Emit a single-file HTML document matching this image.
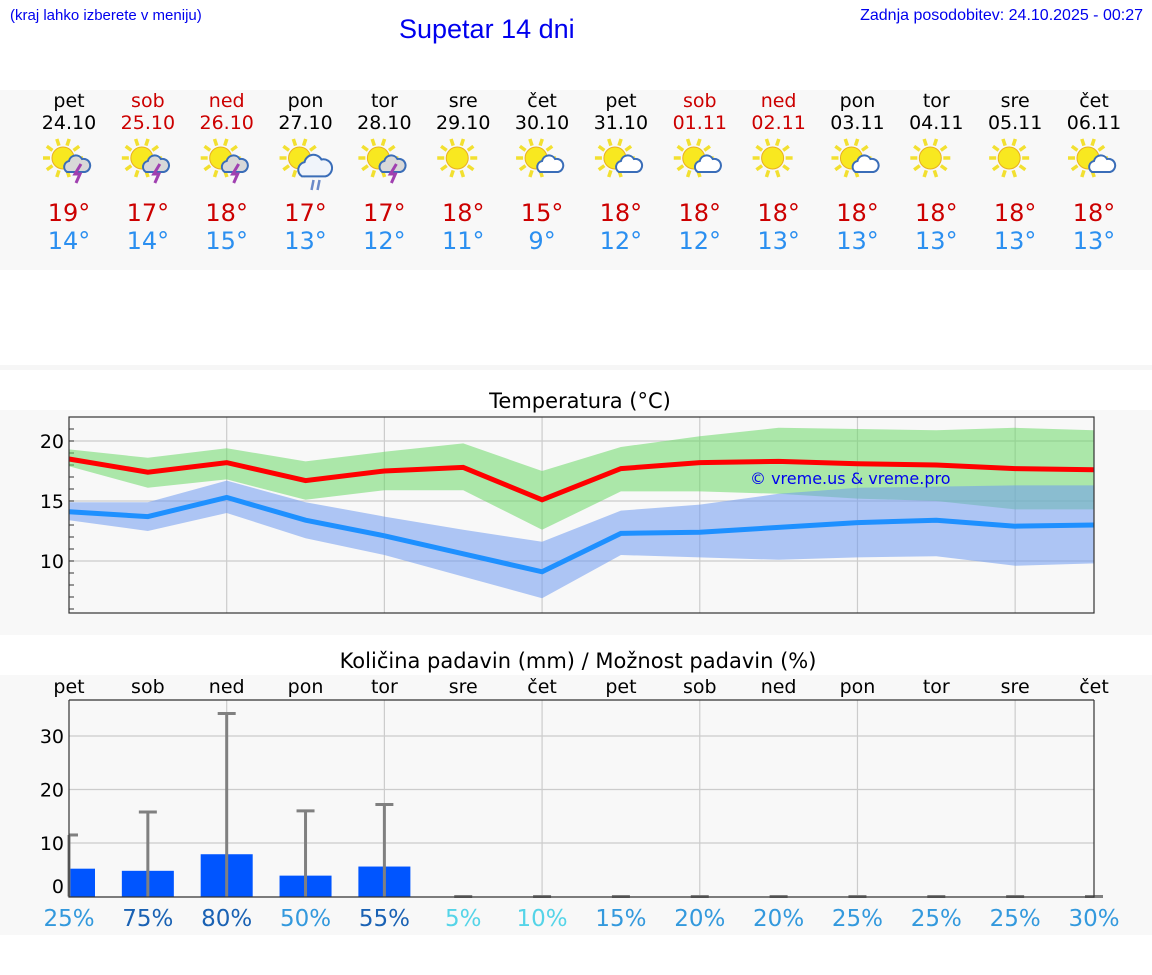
<!DOCTYPE html>
<html><head><meta charset="utf-8"><style>
body{margin:0;width:1152px;height:975px;background:#fff;position:relative;overflow:hidden;font-family:"DejaVu Sans","Liberation Sans",sans-serif}
.a{position:absolute}
</style></head><body>
<div class="a" style="left:10px;top:7px;font:15px 'Liberation Sans',sans-serif;color:#0000ee">(kraj lahko izberete v meniju)</div>
<div class="a" style="left:399px;top:14px;font:27px 'Liberation Sans',sans-serif;color:#0000ee">Supetar 14 dni</div>
<div class="a" style="right:9px;top:7px;font:16px 'Liberation Sans',sans-serif;color:#0000ee">Zadnja posodobitev: 24.10.2025 - 00:27</div>
<svg class="a" style="left:0;top:0" width="1152" height="975">
<rect x="0" y="90" width="1152" height="180" fill="#f8f8f8"/>
<rect x="0" y="365" width="1152" height="5" fill="#f6f6f6"/>
<rect x="0" y="410" width="1152" height="225" fill="#f8f8f8"/>
<rect x="0" y="675" width="1152" height="260" fill="#f8f8f8"/>
<g id="daily"></g>
<text x="580" y="408" font-size="21" text-anchor="middle">Temperatura (°C)</text>
<g id="temp"></g>
<text x="578" y="668" font-size="21" text-anchor="middle">Količina padavin (mm) / Možnost padavin (%)</text>
<g id="prec"></g>
</svg>
<script>
const days=["pet","sob","ned","pon","tor","sre","čet","pet","sob","ned","pon","tor","sre","čet"];
const dates=["24.10","25.10","26.10","27.10","28.10","29.10","30.10","31.10","01.11","02.11","03.11","04.11","05.11","06.11"];
const weekend=[0,1,1,0,0,0,0,0,1,1,0,0,0,0];
const icons=["storm","storm","storm","rain","storm","sun","cloud","cloud","cloud","sun","cloud","sun","sun","cloud"];
const maxT=[19,17,18,17,17,18,15,18,18,18,18,18,18,18];
const minT=[14,14,15,13,12,11,9,12,12,13,13,13,13,13];
const maxLine=[18.5,17.4,18.2,16.7,17.5,17.8,15.1,17.7,18.2,18.3,18.1,18.0,17.7,17.6];
const maxHi=[19.3,18.6,19.4,18.3,19.1,19.8,17.5,19.5,20.4,21.1,21.0,20.9,21.1,20.9];
const maxLo=[17.9,16.1,16.8,15.1,15.9,15.9,12.6,15.8,15.8,15.6,15.2,15.0,14.3,14.3];
const minLine=[14.1,13.7,15.3,13.4,12.1,10.6,9.1,12.3,12.4,12.8,13.2,13.4,12.9,13.0];
const minHi=[14.9,14.9,16.7,14.9,13.7,12.6,11.6,14.2,14.7,15.6,16.1,16.2,16.3,16.3];
const minLo=[13.4,12.5,14.0,11.9,10.5,8.7,6.9,10.5,10.3,10.1,10.3,10.4,9.6,9.8];
const tTicks=[10,15,20];
const precip=[5.2,4.8,7.9,3.9,5.6,0,0,0,0,0,0,0,0,0];
const precipMax=[11.5,15.8,34.2,16.0,17.2,0,0,0,0,0,0,0,0,0];
const prob=[25,75,80,50,55,5,10,15,20,20,25,25,25,30];
const pTicks=[0,10,20,30];
const NS="http://www.w3.org/2000/svg";
function mk(p,t,a){const e=document.createElementNS(NS,t);for(const k in a)e.setAttribute(k,a[k]);p.appendChild(e);return e;}
const X0=69,X1=1094,xs=i=>X0+i*(X1-X0)/13;
const D=document.getElementById('daily');
function icon(g,cx,type){
  const sx=cx-6,sy=158;
  for(let k=0;k<10;k++){const a=k*Math.PI/5;const r=mk(g,'line',{x1:sx+Math.cos(a)*13,y1:sy+Math.sin(a)*13,x2:sx+Math.cos(a)*20,y2:sy+Math.sin(a)*20,stroke:'#f2e030','stroke-width':3.5});}
  const s=mk(g,'circle',{cx:sx,cy:sy,r:11,fill:'#f8e820',stroke:'#e8b020','stroke-width':1});
  if(type==='sun')return;
  const big=type==='rain';const ox=cx+(big?12:10),oy=big?166:164,sc=big?1.3:1;
  const fill=type==='cloud'?'#ffffff':(big?'#f0f4fa':'#d8d8d8');
  const c=mk(g,'path',{d:`M${ox-12*sc},${oy+8*sc} a${6*sc},${6*sc} 0 0 1 ${2*sc},${-11*sc} a${7*sc},${7*sc} 0 0 1 ${13*sc},${-2*sc} a${6*sc},${6*sc} 0 0 1 ${3*sc},${13*sc} z`,fill:fill,stroke:'#3a6db8','stroke-width':2});
  if(type==='storm'){const l=mk(g,'path',{d:`M${ox+2},${oy} l-6,10 h5 l-4,9`,fill:'none',stroke:'#a040b0','stroke-width':3});}
  if(type==='rain'){for(const d of [0,6]){const r=mk(g,'line',{x1:ox-4+d,y1:oy+14,x2:ox-6+d,y2:oy+24,stroke:'#6a8ac8','stroke-width':2.5});}}
}
days.forEach((d,i)=>{
  const cx=xs(i);const col=weekend[i]?'#cc0000':'#000';
  const g=mk(D,'g',{});
  let t=mk(g,'text',{x:cx,y:107,'font-size':19,'text-anchor':'middle',fill:col});t.textContent=d;
  t=mk(g,'text',{x:cx,y:129,'font-size':19,'text-anchor':'middle',fill:col});t.textContent=dates[i];
  icon(g,cx,icons[i]);
  t=mk(g,'text',{x:cx,y:221,'font-size':24,'text-anchor':'middle',fill:'#cc0000'});t.textContent=maxT[i]+'°';
  t=mk(g,'text',{x:cx,y:249,'font-size':24,'text-anchor':'middle',fill:'#2b8ff0'});t.textContent=minT[i]+'°';
});
const T=document.getElementById('temp');const TY0=417,TY1=613;const ty=v=>441+(20-v)*12;
let r=mk(T,'rect',{x:X0,y:TY0,width:X1-X0,height:TY1-TY0,fill:'#f8f8f8'});
tTicks.forEach(v=>{let l=mk(T,'line',{x1:X0,x2:X1,y1:ty(v),y2:ty(v),stroke:'#ccc','stroke-width':1.2});
 let t=mk(T,'text',{x:64,y:ty(v)+7,'font-size':19,'text-anchor':'end'});t.textContent=v;});
for(let v=6;v<=22;v++){let l=mk(T,'line',{x1:X0,x2:X0+5,y1:ty(v),y2:ty(v),stroke:'#333','stroke-width':1});}
[2,4,6,8,10,12].forEach(i=>{let l=mk(T,'line',{x1:xs(i),x2:xs(i),y1:TY0,y2:TY1,stroke:'#ccc','stroke-width':1.2});});
function band(hi,lo,col,name){let d='M'+hi.map((v,i)=>xs(i)+','+ty(v)).join(' L')+' L'+lo.map((v,i)=>xs(i)+','+ty(v)).reverse().join(' L')+'Z';let p=mk(T,'path',{d:d,fill:col,'fill-opacity':0.55});}
function line(a,col,name){let p=mk(T,'polyline',{points:a.map((v,i)=>xs(i)+','+ty(v)).join(' '),fill:'none',stroke:col,'stroke-width':5});}
band(maxHi,maxLo,'#6cd868','max-temp-range');band(minHi,minLo,'#6f9af0','min-temp-range');
line(maxLine,'#ff0000','max-temp-line');line(minLine,'#1e90ff','min-temp-line');
let wm=mk(T,'text',{x:750,y:484,'font-size':16,fill:'#0000ee'});wm.textContent='© vreme.us & vreme.pro';
r=mk(T,'rect',{x:X0,y:TY0,width:X1-X0,height:TY1-TY0,fill:'none',stroke:'#333','stroke-width':1.2});
const P=document.getElementById('prec');const PY0=700,PY1=897;const py=v=>896.5-v*5.35;
days.forEach((d,i)=>{let t=mk(P,'text',{x:xs(i),y:693,'font-size':19,'text-anchor':'middle'});t.textContent=d;});
[10,20,30].forEach(v=>{let l=mk(P,'line',{x1:X0,x2:X1,y1:py(v),y2:py(v),stroke:'#ccc','stroke-width':1.2});});
pTicks.forEach(v=>{let t=mk(P,'text',{x:64,y:v===0?893:py(v)+7,'font-size':19,'text-anchor':'end'});t.textContent=v;});
[2,4,6,8,10,12].forEach(i=>{let l=mk(P,'line',{x1:xs(i),x2:xs(i),y1:PY0,y2:PY1,stroke:'#ccc','stroke-width':1.2});});
precip.forEach((v,i)=>{const x0=Math.max(X0,xs(i)-26),x1=xs(i)+26;
 if(v>0){let b=mk(P,'rect',{x:x0,y:py(v),width:x1-x0,height:py(0)-py(v),fill:'#0055ff'});}
 let e=mk(P,'line',{x1:xs(i),x2:xs(i),y1:py(precipMax[i]),y2:py(0),stroke:'#808080','stroke-width':3});
 let c=mk(P,'line',{x1:Math.max(X0,xs(i)-9),x2:xs(i)+9,y1:py(precipMax[i]),y2:py(precipMax[i]),stroke:'#808080','stroke-width':3});
 const col=prob[i]<=10?'#55d4e8':(prob[i]<=50?'#3399dd':'#1a62b4');
 let t=mk(P,'text',{x:xs(i),y:926,'font-size':23,'text-anchor':'middle',fill:col});t.textContent=prob[i]+'%';
});
let ax=mk(P,'path',{d:`M${X0},${PY0} V${PY1} H${X1} V${PY0}`,fill:'none',stroke:'#333','stroke-width':1.2});
let tp=mk(P,'line',{x1:X0,x2:X1,y1:PY0,y2:PY0,stroke:'#333','stroke-width':1.2});
</script>
</body></html>
